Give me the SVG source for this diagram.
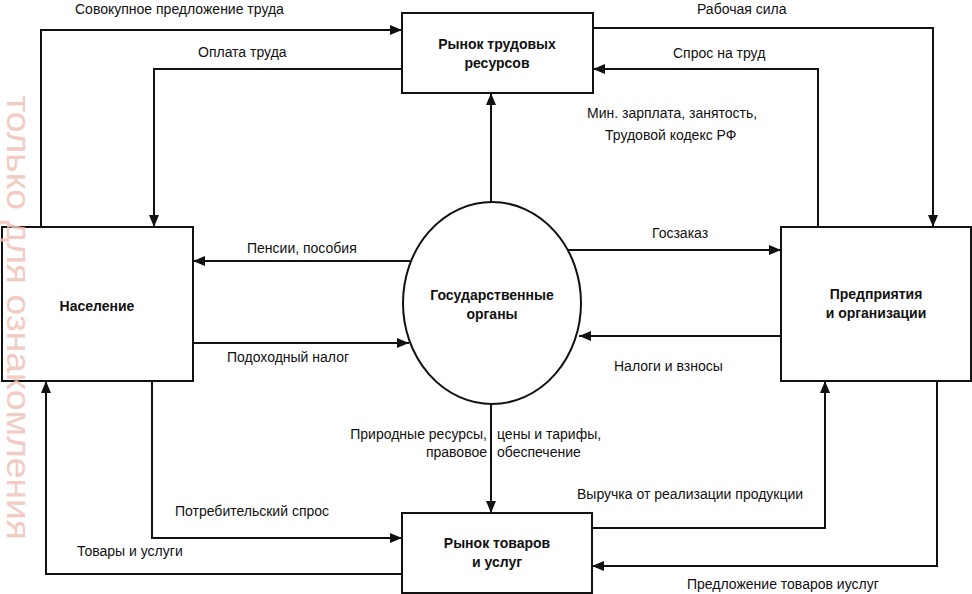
<svg xmlns="http://www.w3.org/2000/svg" width="972" height="594" viewBox="0 0 972 594">
<style>
.box{fill:#fff;stroke:#111;stroke-width:2}
.ln{fill:none;stroke:#111;stroke-width:2}
.t{font-family:"Liberation Sans",Arial,sans-serif;font-size:14px;fill:#111}
.b{font-family:"Liberation Sans",Arial,sans-serif;font-size:14px;font-weight:bold;fill:#111;text-anchor:middle}
.wm{font-family:"Liberation Sans",Arial,sans-serif;font-size:33px;fill:#f0c2b8;opacity:0.85}
</style>
<defs>
<marker id="ah" viewBox="0 0 12 10" refX="12" refY="5" markerWidth="12" markerHeight="10" markerUnits="userSpaceOnUse" orient="auto">
<path d="M0,0 L12,5 L0,10 Z" fill="#111"/>
</marker>
</defs>
<rect width="972" height="594" fill="#fff"/>

<g id="connectors">
<path class="ln" d="M41,227 V30 H402" marker-end="url(#ah)"/>
<path class="ln" d="M402,69 H154 V227" marker-end="url(#ah)"/>
<path class="ln" d="M593,28 H933 V227" marker-end="url(#ah)"/>
<path class="ln" d="M818,227 V69 H593" marker-end="url(#ah)"/>
<path class="ln" d="M491,202 V93" marker-end="url(#ah)"/>
<path class="ln" d="M410,261 H193" marker-end="url(#ah)"/>
<path class="ln" d="M193,343 H409" marker-end="url(#ah)"/>
<path class="ln" d="M568,250 H781" marker-end="url(#ah)"/>
<path class="ln" d="M781,336 H579" marker-end="url(#ah)"/>
<path class="ln" d="M491,405 V513" marker-end="url(#ah)"/>
<path class="ln" d="M152,381 V538 H402" marker-end="url(#ah)"/>
<path class="ln" d="M402,574 H46 V381" marker-end="url(#ah)"/>
<path class="ln" d="M592,528 H825 V381" marker-end="url(#ah)"/>
<path class="ln" d="M937,381 V566 H592" marker-end="url(#ah)"/>
<text class="t" x="75" y="14">Совокупное предложение труда</text>
<text class="t" x="198" y="57">Оплата труда</text>
<text class="t" x="697" y="14">Рабочая сила</text>
<text class="t" x="673" y="58">Спрос на труд</text>
<text class="t" x="587" y="118">Мин. зарплата, занятость,</text>
<text class="t" x="605" y="140">Трудовой кодекс РФ</text>
<text class="t" x="247" y="253">Пенсии, пособия</text>
<text class="t" x="227" y="362">Подоходный налог</text>
<text class="t" x="652" y="238">Госзаказ</text>
<text class="t" x="614" y="371">Налоги и взносы</text>
<text class="t" x="487" y="439" text-anchor="end">Природные ресурсы,</text>
<text class="t" x="487" y="457" text-anchor="end">правовое</text>
<text class="t" x="497" y="439">цены и тарифы,</text>
<text class="t" x="497" y="457">обеспечение</text>
<text class="t" x="175" y="516">Потребительский спрос</text>
<text class="t" x="77" y="556">Товары и услуги</text>
<text class="t" x="577" y="499">Выручка от реализации продукции</text>
<text class="t" x="687" y="589">Предложение товаров иуслуг</text>
</g>

<g id="labor-market">
<rect class="box" x="402" y="13" width="191" height="80"/>
<text class="b" x="497" y="49">Рынок трудовых</text>
<text class="b" x="497" y="68">ресурсов</text>
</g>
<g id="population">
<rect class="box" x="2" y="227" width="191" height="154"/>
<text class="b" x="97" y="311">Население</text>
</g>
<g id="government">
<ellipse class="box" cx="492" cy="303" rx="89" ry="101"/>
<text class="b" x="492" y="300">Государственные</text>
<text class="b" x="492" y="319">органы</text>
</g>
<g id="enterprises">
<rect class="box" x="781" y="227" width="190" height="154"/>
<text class="b" x="876" y="299">Предприятия</text>
<text class="b" x="876" y="318">и организации</text>
</g>
<g id="goods-market">
<rect class="box" x="402" y="513" width="190" height="80"/>
<text class="b" x="497" y="548">Рынок товаров</text>
<text class="b" x="497" y="567">и услуг</text>
</g>
<text class="wm" transform="translate(7,95) rotate(90)" textLength="445" lengthAdjust="spacingAndGlyphs">только для ознакомления</text>
</svg>
